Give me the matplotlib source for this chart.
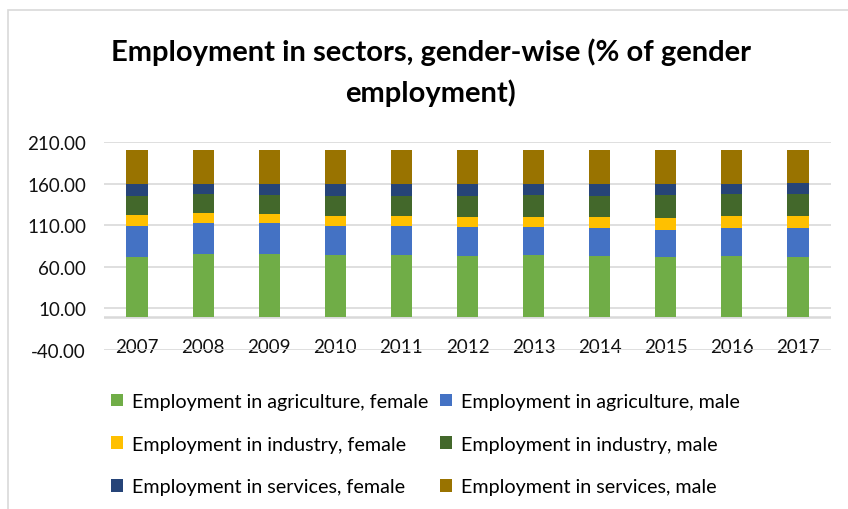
import numpy as np
import matplotlib.pyplot as plt
from matplotlib.patches import Rectangle

# Data
years = ['2007', '2008', '2009', '2010', '2011', '2012',
         '2013', '2014', '2015', '2016', '2017']

agri_female = [72.3, 75.0, 75.0, 73.9, 74.7, 73.5, 74.7, 72.7, 71.8, 73.1, 72.3]
agri_male = [36.9, 37.4, 37.4, 35.3, 34.9, 34.1, 33.7, 33.7, 32.5, 33.7, 34.1]
ind_female = [12.8, 12.1, 10.9, 11.6, 11.2, 12.0, 11.6, 13.2, 14.5, 14.4, 14.1]
ind_male = [23.0, 22.5, 22.5, 24.2, 24.6, 25.8, 25.8, 25.8, 27.4, 26.1, 26.8]
serv_female = [14.9, 12.9, 14.1, 14.5, 14.1, 14.5, 13.7, 14.1, 13.7, 12.5, 13.6]
serv_male = [40.1, 40.1, 40.1, 40.5, 40.5, 40.1, 40.5, 40.5, 40.1, 40.2, 39.1]

series = [
    ('Employment in agriculture, female', agri_female, '#70AD47'),
    ('Employment in agriculture, male', agri_male, '#4472C4'),
    ('Employment in industry, female', ind_female, '#FFC000'),
    ('Employment in industry, male', ind_male, '#43682B'),
    ('Employment in services, female', serv_female, '#264478'),
    ('Employment in services, male', serv_male, '#997300'),
]

plt.rcParams['font.family'] = ['Lato', 'DejaVu Sans']

W, H = 848, 510
fig = plt.figure(figsize=(W / 100, H / 100), dpi=100)

# chart border (only left and top visible in the crop)
fig.patches.append(Rectangle((8 / W, -0.1), 1.2, (H - 11) / H + 0.1,
                             transform=fig.transFigure, fill=False,
                             edgecolor='#d9d9d9', lw=1.2))

ax = fig.add_axes([104 / W, (H - 351) / H, 727 / W, (351 - 143) / H])

x = np.arange(len(years))
bottom = np.zeros(len(years))
handles = {}
for name, vals, col in series:
    b = ax.bar(x, vals, width=0.32, bottom=bottom, color=col, label=name, zorder=3)
    handles[name] = b
    bottom += np.array(vals)

ax.set_xlim(-0.5, len(years) - 0.5)
ax.set_ylim(-40, 210)
ax.set_yticks(np.arange(-40, 211, 50))
ax.set_yticklabels([f'{v:.2f}' for v in np.arange(-40, 211, 50)])
ax.grid(axis='y', color='#d9d9d9', lw=1.2, zorder=0)
ax.axhline(0, color='#d9d9d9', lw=1.8, zorder=2)
for s in ax.spines.values():
    s.set_visible(False)

ax.set_xticks(x)
ax.set_xticklabels(years)
ax.tick_params(axis='both', length=0, labelsize=13.5, colors='#111111')
ax.tick_params(axis='y', pad=13)
ax.tick_params(axis='x', pad=-8.5)

fig.text(0.508, (H - 52) / H, 'Employment in sectors, gender-wise (% of gender',
         ha='center', va='center', fontsize=21, fontweight='bold')
fig.text(0.508, (H - 93) / H, 'employment)',
         ha='center', va='center', fontsize=21, fontweight='bold')

# legend: row-major order needs column-major handle list
order = [0, 2, 4, 1, 3, 5]
hs = [handles[series[i][0]] for i in order]
ls = [series[i][0] for i in order]
fig.legend(hs, ls, ncol=2, loc='upper left', bbox_to_anchor=(111 / W, (H - 394) / H),
           frameon=False, fontsize=14.2, handlelength=0.6, handleheight=0.6,
           handletextpad=0.45, columnspacing=0.6, labelspacing=1.3,
           borderaxespad=0, borderpad=0)

fig.savefig('out.png', dpi=100)
